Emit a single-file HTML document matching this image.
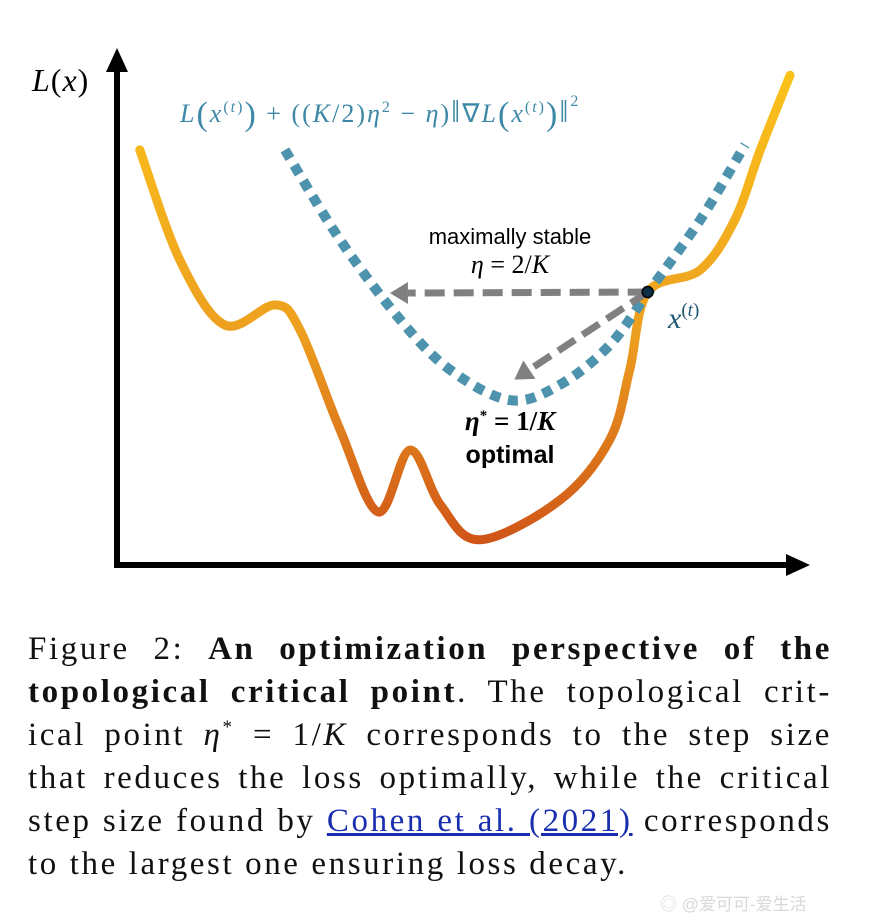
<!DOCTYPE html>
<html><head><meta charset="utf-8">
<style>
html,body{margin:0;padding:0;background:#fff;}
#wrap{position:relative;width:874px;height:920px;overflow:hidden;}
svg{position:absolute;left:0;top:0;}
.cap{position:absolute;left:28px;width:804px;font-family:"Liberation Serif",serif;font-size:33px;letter-spacing:2.6px;color:#111;line-height:43px;height:43px;white-space:nowrap;}
.j{text-align:justify;text-align-last:justify;}
sup{line-height:0;}
a{color:#1a2fb0;text-decoration:underline;}
.wm{position:absolute;left:660px;top:890px;font-family:"Liberation Sans","Noto Sans CJK SC",sans-serif;font-size:17px;color:#d8d8d8;}
</style></head><body>
<div id="wrap">
<svg id="chart" width="874" height="620">
<defs>
<linearGradient id="og" x1="0" y1="70" x2="0" y2="545" gradientUnits="userSpaceOnUse">
<stop offset="0" stop-color="#fbc21a"/><stop offset="0.55" stop-color="#eda01f"/><stop offset="1" stop-color="#cf5418"/>
</linearGradient>
</defs>
<g id="g"></g>
</svg>
<div class="cap j" style="top:628px">Figure 2: <b>An optimization perspective of the</b></div>
<div class="cap j" style="top:671px"><b>topological critical point</b>. The topological crit-</div>
<div class="cap j" style="top:714px">ical point <i>η</i><sup style="font-size:19px">*</sup> = 1/<i>K</i> corresponds to the step size</div>
<div class="cap j" style="top:757px">that reduces the loss optimally, while the critical</div>
<div class="cap j" style="top:800px">step size found by <a>Cohen et al. (2021)</a> corresponds</div>
<div class="cap" style="top:843px">to the largest one ensuring loss decay.</div>
<div class="wm">◎ @爱可可-爱生活</div>
</div>
<script>
const lossX=[0.33,0.91,1.56,2.29,2.65,3.23,3.78,4.24,4.68,5.25,6.41,7.13,7.42,7.68,8.44,8.94,9.31,9.74];
const lossY=[8.06,5.92,4.66,5.05,4.56,2.62,1.03,2.23,1.17,0.49,1.26,2.43,3.79,5.30,5.73,6.70,8.06,9.51];
const quadX=[2.43,3.23,4.10,4.82,5.69,6.41,7.13,7.71,8.44,9.09];
const quadY=[8.06,6.31,4.76,3.79,3.20,3.50,4.27,5.34,6.70,8.16];
const currentPoint=[7.68,5.30];
const stableTarget=[3.95,5.28];
const optimalTarget=[5.75,3.60];
const NS="http://www.w3.org/2000/svg";
const g=document.getElementById('g');
const xs=v=>117+v*69.1, ys=v=>565-v*51.5;
function mk(t,a){const e=document.createElementNS(NS,t);for(const k in a)e.setAttribute(k,a[k]);g.appendChild(e);return e;}
function smooth(X,Y){const p=X.map((x,i)=>[xs(x),ys(Y[i])]);let d=`M${p[0][0]},${p[0][1]}`;
for(let i=0;i<p.length-1;i++){const p0=p[Math.max(0,i-1)],p1=p[i],p2=p[i+1],p3=p[Math.min(p.length-1,i+2)];
d+=` C${p1[0]+(p2[0]-p0[0])/6},${p1[1]+(p2[1]-p0[1])/6} ${p2[0]-(p3[0]-p1[0])/6},${p2[1]-(p3[1]-p1[1])/6} ${p2[0]},${p2[1]}`;}return d;}
let e;
e=mk('line',{x1:117,y1:565,x2:117,y2:68,stroke:'#000','stroke-width':6});

e=mk('polygon',{points:'117,48 106,72 128,72',fill:'#000'});

e=mk('line',{x1:114,y1:565,x2:790,y2:565,stroke:'#000','stroke-width':6});

e=mk('polygon',{points:'810,565 786,554 786,576',fill:'#000'});

e=mk('path',{d:smooth(lossX,lossY),fill:'none',stroke:'url(#og)','stroke-width':9,'stroke-linecap':'round'});

e=mk('path',{d:smooth(quadX,quadY),fill:'none',stroke:'#4e93ad','stroke-width':10,'stroke-dasharray':'10 8'});

const cx=xs(currentPoint[0]),cy=ys(currentPoint[1]);
function arrow(t,name){const tx=xs(t[0]),ty=ys(t[1]);const dx=tx-cx,dy=ty-cy,L=Math.hypot(dx,dy),ux=dx/L,uy=dy/L;
const bx=tx-ux*18,by=ty-uy*18;
let a=mk('line',{x1:cx,y1:cy,x2:bx,y2:by,stroke:'#808080','stroke-width':7,'stroke-dasharray':'20 9'});

a=mk('polygon',{points:`${tx},${ty} ${bx-uy*11},${by+ux*11} ${bx+uy*11},${by-ux*11}`,fill:'#808080'});
}
arrow(stableTarget,'stable-step-arrow');
arrow(optimalTarget,'optimal-step-arrow');
e=mk('circle',{cx:cx,cy:cy,r:5.5,fill:'#0b2f45',stroke:'#000','stroke-width':1.5});

function txt(x,y,s,st,name){const t=mk('text',{x:x,y:y});t.setAttribute('style',st);t.innerHTML=s;
}
const serif='font-family:"Liberation Serif",serif;';
const sans='font-family:"Liberation Sans",sans-serif;';
txt(32,91,'<tspan font-style="italic">L</tspan>(<tspan font-style="italic">x</tspan>)',serif+'font-size:32px;fill:#000;letter-spacing:1px','y-axis-title');
txt(180,122,'<tspan font-style="italic">L</tspan><tspan font-size="34" dy="3">(</tspan><tspan dy="-3" font-style="italic">x</tspan><tspan dy="-10" font-size="16">(<tspan font-style="italic">t</tspan>)</tspan><tspan dy="13" font-size="34">)</tspan><tspan dy="-3"> + ((</tspan><tspan font-style="italic">K</tspan>/2)<tspan font-style="italic">η</tspan><tspan dy="-10" font-size="16">2</tspan><tspan dy="10"> − </tspan><tspan font-style="italic">η</tspan>)<tspan font-size="32">‖</tspan>∇<tspan font-style="italic">L</tspan><tspan font-size="34" dy="3">(</tspan><tspan dy="-3" font-style="italic">x</tspan><tspan dy="-10" font-size="16">(<tspan font-style="italic">t</tspan>)</tspan><tspan dy="13" font-size="34">)</tspan><tspan dy="-3" font-size="32">‖</tspan><tspan dy="-16" font-size="16">2</tspan>',serif+'font-size:26px;fill:#3d88a6;letter-spacing:2px','quadratic-bound-label');
txt(510,244,'maximally stable',sans+'font-size:22px;fill:#000;text-anchor:middle','stable-label');
txt(510,273,'<tspan font-style="italic">η</tspan> = 2/<tspan font-style="italic">K</tspan>',serif+'font-size:26px;fill:#000;text-anchor:middle','stable-eta-label');
txt(668,328,'<tspan font-style="italic">x</tspan><tspan dy="-12" font-size="19">(<tspan font-style="italic">t</tspan>)</tspan>',serif+'font-size:30px;fill:#1d5873','current-point-label');
txt(510,430,'<tspan font-style="italic">η</tspan><tspan dy="-10" font-size="15">*</tspan><tspan dy="10"> = 1/</tspan><tspan font-style="italic">K</tspan>',serif+'font-size:27px;font-weight:bold;fill:#000;text-anchor:middle','optimal-eta-label');
txt(510,463,'optimal',sans+'font-size:25px;font-weight:bold;fill:#000;text-anchor:middle','optimal-label');
</script>
</body></html>
